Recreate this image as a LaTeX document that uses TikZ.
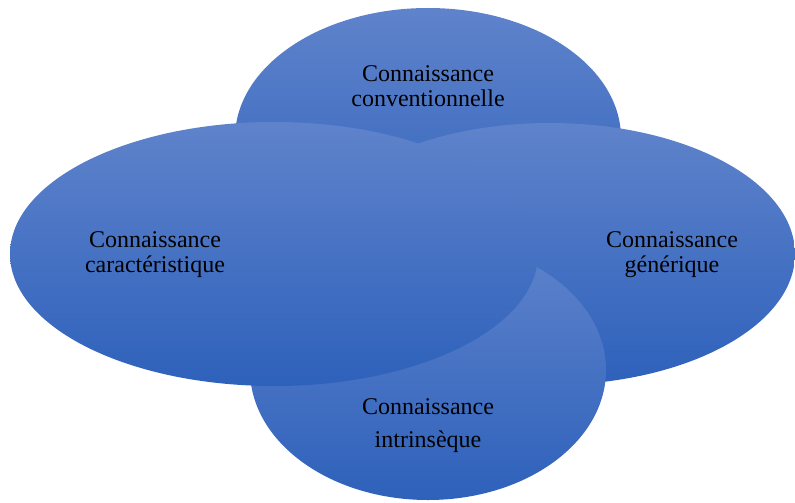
\documentclass[tikz,border=0pt]{standalone}
\usepackage{fontspec}
\setmainfont{Liberation Serif}
\usetikzlibrary{shapes.geometric}
\definecolor{blobtop}{RGB}{95,131,203}
\definecolor{blobbot}{RGB}{46,97,187}
\tikzset{blob/.style = {ellipse, draw=none, inner sep=0pt,
                        top color=blobtop, bottom color=blobbot},
         blobtext/.style = {align=center, text=black,
                            font=\fontsize{12}{12.5}\selectfont}}

\begin{document}
\begin{tikzpicture}[x=0.5pt,y=-0.5pt]
  \useasboundingbox (0,0) rectangle (795,502);
  \node[blob, minimum width=193pt, minimum height=130pt] (conv) at (428,138) {};
  \node[blob, minimum width=245pt, minimum height=131pt] (gen)  at (550,254) {};
  \node[blob, minimum width=178pt, minimum height=130pt] (intr) at (428,370) {};
  \node[blob, minimum width=264pt, minimum height=132pt] (car)  at (274,254) {};
  \node[blobtext] (convtext) at (428,86)  {Connaissance\\conventionnelle};
  \node[blobtext] (cartext)  at (155,255) {Connaissance\\caractéristique};
  \node[blobtext] (gentext)  at (672,255) {Connaissance\\générique};
  \node[blobtext, font=\fontsize{12}{16.5}\selectfont] (intrtext) at (428,426)
    {Connaissance\\intrinsèque};
\end{tikzpicture}
\end{document}
